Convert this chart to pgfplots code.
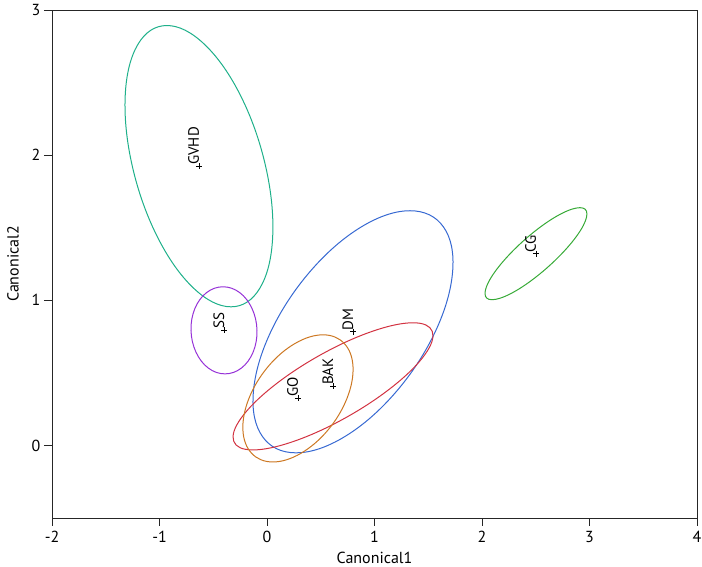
\documentclass[border=0pt]{standalone}
\usepackage{pgfplots}
\pgfplotsset{compat=1.18}
\usepackage{fontspec}
\setmainfont{PT Sans}
\definecolor{cGVHD}{RGB}{30,176,138}
\definecolor{cSS}{RGB}{150,50,215}
\definecolor{cDM}{RGB}{55,105,210}
\definecolor{cBAK}{RGB}{210,50,65}
\definecolor{cGO}{RGB}{205,120,35}
\definecolor{cCG}{RGB}{55,170,55}
\begin{document}
\begin{tikzpicture}
\begin{axis}[name=ax, scale only axis, width=645pt, height=508pt,
  xmin=-2, xmax=4, ymin=-0.5, ymax=3,
  xtick={-2,-1,0,1,2,3,4}, ytick={0,1,2,3},
  tick align=outside, xtick pos=bottom, ytick pos=left,
  major tick length=8pt,
  tick style={black!85, line width=0.8pt},
  axis line style={line width=0.8pt, black!85},
  ticklabel style={font=\fontsize{16}{16}\selectfont},
  xticklabel style={yshift=-2pt},
  /pgf/number format/assume math mode=true,
  xlabel={Canonical1}, ylabel={Canonical2},
  label style={font=\fontsize{16}{16}\selectfont},
  xlabel shift=2pt, ylabel shift=6pt,
  every axis plot/.append style={line width=1pt},
]
% GVHD
\addplot[cGVHD, smooth cycle, tension=0.64, mark=none] coordinates {
(-0.931,2.893) (-0.581,2.763) (-0.245,2.409) (-0.013,1.924) (0.053,1.439) (-0.065,1.085)
(-0.335,0.955) (-0.685,1.085) (-1.021,1.439) (-1.253,1.924) (-1.319,2.409) (-1.201,2.763)};
% SS
\addplot[cSS, smooth cycle, tension=0.64, mark=none] coordinates {
(-0.409,1.093) (-0.254,1.053) (-0.139,0.943) (-0.093,0.793) (-0.129,0.643) (-0.238,0.533)
(-0.391,0.493) (-0.546,0.533) (-0.661,0.643) (-0.707,0.793) (-0.671,0.943) (-0.562,1.053)};
% DM
\addplot[cDM, smooth cycle, tension=0.64, mark=none] coordinates {
(1.330,1.617) (1.642,1.505) (1.727,1.200) (1.565,0.783) (1.197,0.366) (0.724,0.061)
(0.270,-0.051) (-0.042,0.061) (-0.127,0.366) (0.035,0.783) (0.403,1.200) (0.876,1.505)};
% BAK
\addplot[cBAK, smooth cycle, tension=0.64, mark=none] coordinates {
(1.358,0.845) (1.537,0.786) (1.469,0.626) (1.172,0.407) (0.725,0.188) (0.249,0.028)
(-0.130,-0.031) (-0.309,0.028) (-0.241,0.188) (0.056,0.407) (0.503,0.626) (0.979,0.786)};
% GO
\addplot[cGO, smooth cycle, tension=0.64, mark=none] coordinates {
(0.521,0.762) (0.718,0.703) (0.800,0.543) (0.744,0.324) (0.566,0.105) (0.314,-0.055)
(0.055,-0.114) (-0.142,-0.055) (-0.224,0.105) (-0.168,0.324) (0.010,0.543) (0.262,0.703)};
% CG
\addplot[cCG, smooth cycle, tension=0.64, mark=none] coordinates {
(2.911,1.638) (2.976,1.596) (2.915,1.480) (2.742,1.321) (2.505,1.162) (2.268,1.046)
(2.093,1.004) (2.028,1.046) (2.089,1.162) (2.262,1.321) (2.499,1.480) (2.736,1.596)};
% centres
\addplot[only marks, mark=+, mark size=3pt, black, line width=0.8pt,
  nodes near coords, point meta=explicit symbolic,
  every node near coord/.style={rotate=90, anchor=base west, inner sep=1pt,
    font=\fontsize{15}{15}\selectfont, text=black}]
  table[meta=lab] {
x y lab
-0.633 1.924 GVHD
-0.400 0.793 SS
0.800 0.783 DM
0.614 0.407 BAK
0.288 0.324 GO
2.502 1.321 CG
};
\end{axis}
\pgfresetboundingbox
\path ([shift={(-52pt,-49pt)}]ax.south west) rectangle ([shift={(5pt,10pt)}]ax.north east);
\end{tikzpicture}
\end{document}
